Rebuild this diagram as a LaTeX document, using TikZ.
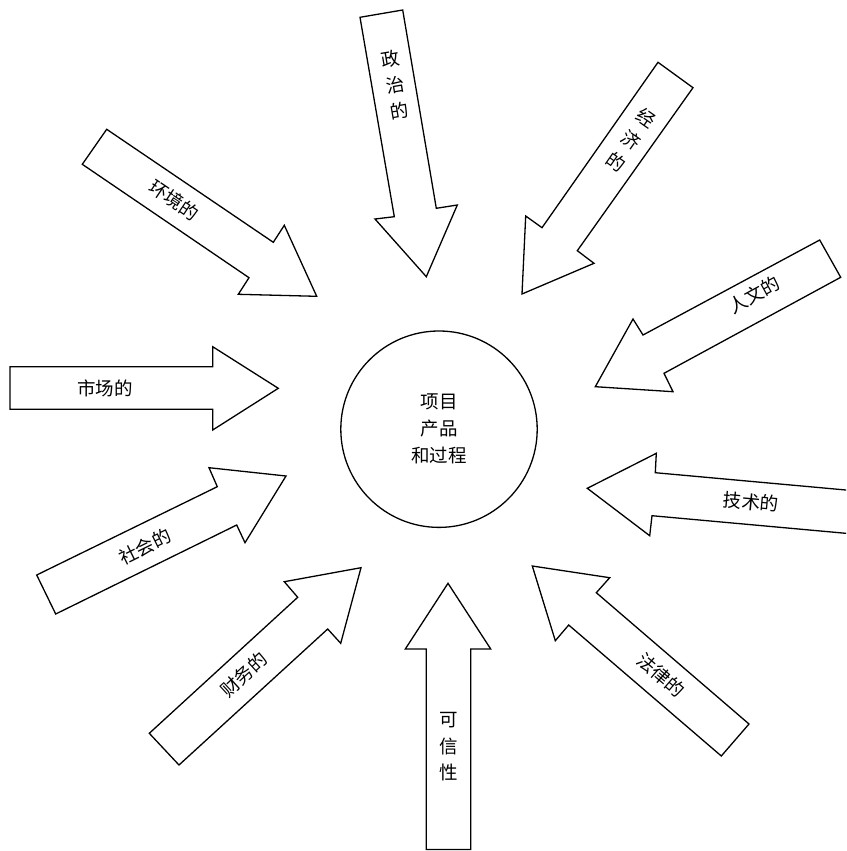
\documentclass[tikz,border=0pt]{standalone}
\usepackage{fontspec}
\setmainfont{Noto Sans CJK SC}
\begin{document}
\begin{tikzpicture}[x=1pt,y=-1pt,
  arr/.style={draw=black,line width=1.3pt,line join=miter,fill=white},
  lbl/.style={font=\fontsize{18.5}{26.5}\selectfont,inner sep=0pt,align=center},
  hub/.style={draw=black,line width=1.3pt,circle,minimum size=196.4pt,inner sep=0pt,
    font=\fontsize{18.5}{27}\selectfont,align=center}]
\useasboundingbox (0,0) rectangle (846,851);
\clip (0,0) rectangle (846,851);
% circle
\node[hub] (c) at (439,429.2) {项目\\产品\\和过程};
% arrows
\draw[arr] (106.7,129.3) -- (273.3,242.3) -- (284.3,225.3) -- (316.7,296.3) -- (238.3,294.3) -- (249,277.7) -- (82.3,164.3) -- cycle;
\draw[arr] (10,366.7) -- (212.7,366.7) -- (212.7,346.7) -- (278.3,388.3) -- (212.7,430) -- (212.7,409.3) -- (10,409.3) -- cycle;
\draw[arr] (360,17.3) -- (394.3,216.7) -- (375,219) -- (426.3,276.7) -- (457.3,205) -- (436.3,208.3) -- (402.7,10) -- cycle;
\draw[arr] (658,62.3) -- (542,227.7) -- (525.7,216) -- (522,294) -- (594,263.3) -- (577.3,250.7) -- (693,87.7) -- cycle;
\draw[arr] (819.7,240) -- (643,335) -- (633,319) -- (595.3,386.7) -- (673,391.7) -- (664,373.3) -- (840.7,277.3) -- cycle;
\draw[arr] (870,492.2) -- (655.3,472.7) -- (656.3,453.3) -- (587.3,488.3) -- (649.7,535.7) -- (652,515.7) -- (870,535.5) -- cycle;
\draw[arr] (749,724) -- (596.3,592.7) -- (609.7,577.7) -- (532.3,566) -- (555.3,640.7) -- (568.7,625) -- (721.3,756) -- cycle;
\draw[arr] (426.3,849.5) -- (426.3,649) -- (405.3,649) -- (448,583.3) -- (490.7,649) -- (470.7,649) -- (470.7,849.5) -- cycle;
\draw[arr] (36.7,575) -- (217.3,486.7) -- (209,467.7) -- (286,476) -- (245,542.7) -- (236.7,525) -- (55.7,614) -- cycle;
\draw[arr] (149.3,733.3) -- (297.7,597.3) -- (284.3,581.7) -- (361,567.7) -- (340.7,643.3) -- (327.7,629) -- (179,765) -- cycle;
% labels
\node[lbl,rotate=-34] (env) at (174,200) {环境的};
\node[lbl] (mkt) at (105,388.5) {市场的};
\node[lbl,rotate=9.7] (pol) at (395,85) {政\\治\\的};
\node[lbl,rotate=-35] (eco) at (631.3,140) {经\\济\\的};
\node[lbl,rotate=28.6] (hum) at (754,295) {人文的};
\node[lbl,rotate=-5.2] (tec) at (751,502) {技术的};
\node[lbl,rotate=-40.6] (law) at (661,675) {法律的};
\node[lbl] (cre) at (448.3,746.7) {可\\信\\性};
\node[lbl,rotate=26.3] (soc) at (145,546.7) {社会的};
\node[lbl,rotate=42.6] (fin) at (244,675) {财务的};
\end{tikzpicture}
\end{document}
